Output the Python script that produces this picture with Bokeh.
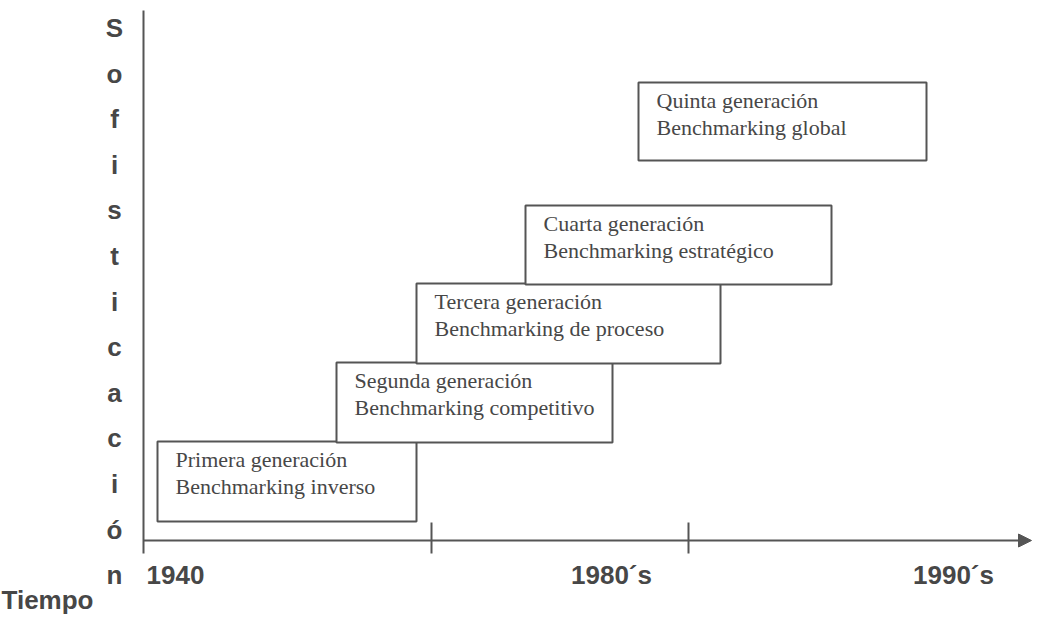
import numpy as np
from bokeh.plotting import figure
from bokeh.models import Range1d, Arrow, NormalHead, ColumnDataSource
from bokeh.core.properties import value
from bokeh.embed import file_html
from bokeh.resources import INLINE

# ---- data ----
generaciones = ["Primera generación", "Segunda generación", "Tercera generación",
                "Cuarta generación", "Quinta generación"]
tipos = ["Benchmarking inverso", "Benchmarking competitivo", "Benchmarking de proceso",
         "Benchmarking estratégico", "Benchmarking global"]
inicio = [1.4, 19.3, 27.3, 38.2, 49.5]      # time (start)
fin = [27.3, 46.9, 57.7, 68.8, 78.3]        # time (end)
nivel_inf = [1.9, 9.8, 17.7, 25.6, 38.0]    # sophistication (low)
nivel_sup = [9.9, 17.8, 25.7, 33.5, 45.8]   # sophistication (high)
periodos = ["1940", "1980´s", "1990´s"]
periodo_x = [3.2, 46.8, 81.0]
marcas = [28.8, 54.5]
eje_y_titulo = "Sofisticación"
eje_x_titulo = "Tiempo"

GRAY = "#555555"
TXT = "#474747"

SERIF = 22
SANS = 26
def adj(fs):
    # baseline correction (data units) for the SVG text placement
    return 0.36 * fs / 10.0

p = figure(width=1033, height=614, x_range=Range1d(-14.3, 89.0), y_range=Range1d(-7.4, 54.0),
           output_backend="svg", toolbar_location=None, min_border=0)
p.axis.visible = False
p.grid.visible = False
p.outline_line_color = None
p.background_fill_color = "white"
p.border_fill_color = "white"

# axes
p.segment(x0=[0], y0=[53.0], x1=[0], y1=[-1.3], line_color=GRAY, line_width=2)
p.add_layout(Arrow(end=NormalHead(size=13, fill_color=GRAY, line_color=GRAY),
                   x_start=0, y_start=0, x_end=88.8, y_end=0,
                   line_color=GRAY, line_width=2))
p.segment(x0=marcas, y0=[1.8] * len(marcas), x1=marcas, y1=[-1.3] * len(marcas),
          line_color=GRAY, line_width=2)

# boxes
src = ColumnDataSource(dict(left=inicio, right=fin, bottom=nivel_inf, top=nivel_sup,
                            gen=generaciones, tipo=tipos,
                            tx=[v + 1.8 for v in inicio],
                            y1=[v - 2.6 + adj(SERIF) for v in nivel_sup],
                            y2=[v - 5.25 + adj(SERIF) for v in nivel_sup]))
p.quad(left="left", right="right", bottom="bottom", top="top", source=src,
       fill_color="white", line_color=GRAY, line_width=2)
p.text(x="tx", y="y1", text="gen", source=src, text_font=value("Liberation Serif"),
       text_font_size=f"{SERIF}px", text_color=TXT, text_baseline="alphabetic", text_align="left")
p.text(x="tx", y="y2", text="tipo", source=src, text_font=value("Liberation Serif"),
       text_font_size=f"{SERIF}px", text_color=TXT, text_baseline="alphabetic", text_align="left")

# x labels
base_x_lab = -4.4 + adj(SANS)
p.text(x=periodo_x, y=[base_x_lab] * len(periodos), text=periodos, text_font=value("Liberation Sans"),
       text_font_size=f"{SANS}px", text_font_style="bold", text_color=TXT,
       text_baseline="alphabetic", text_align="center")

# vertical title letters
letras = list(eje_y_titulo)
n = len(letras)
ys = list(np.linspace(50.3 + adj(SANS), base_x_lab, n))
p.text(x=[-2.9] * n, y=ys, text=letras, text_font=value("Liberation Sans"),
       text_font_size=f"{SANS}px", text_font_style="bold", text_color=TXT,
       text_baseline="alphabetic", text_align="center")

p.text(x=[-14.2], y=[-6.85 + adj(SANS)], text=[eje_x_titulo], text_font=value("Liberation Sans"),
       text_font_size=f"{SANS}px", text_font_style="bold", text_color=TXT,
       text_baseline="alphabetic", text_align="left")

open("out.html", "w").write(file_html(p, INLINE))
